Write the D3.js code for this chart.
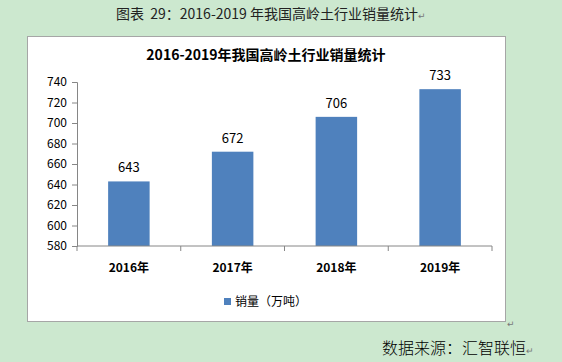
<!DOCTYPE html>
<html>
<head>
<meta charset="utf-8">
<script src="https://cdn.jsdelivr.net/npm/d3@7"></script>
<style>
  body { margin: 0; background: #cce8cf; }
  svg { display: block; }
  text { white-space: pre; }
</style>
</head>
<body>
<div id="chart"></div>
<script>
const years = ["2016年", "2017年", "2018年", "2019年"];
const sales = [643, 672, 706, 733];
const yTicks = [580, 600, 620, 640, 660, 680, 700, 720, 740];
const seriesName = "销量（万吨）";

const W = 562, H = 362;
const FONT = "'Noto Sans CJK SC', 'DejaVu Sans', sans-serif";

const svg = d3.select("#chart").append("svg")
    .attr("width", W)
    .attr("height", H);

svg.append("rect")
    .attr("width", W).attr("height", H)
    .attr("fill", "#cce8cf");

// page caption
const cap = svg.append("text")
    .attr("x", 116).attr("y", 19)
    .style("font-family", FONT)
    .style("font-size", "14px")
    .attr("fill", "#222");
cap.append("tspan").text("图表  29：2016-2019 年我国高岭土行业销量统计");
cap.append("tspan").style("font-size", "9px").attr("fill", "#777").text("↵");

// chart box
svg.append("rect")
    .attr("x", 27.5).attr("y", 36.5)
    .attr("width", 478).attr("height", 285)
    .attr("fill", "#fff")
    .attr("stroke", "#a6a6a6");

svg.append("text")
    .attr("x", 507).attr("y", 327)
    .style("font-family", FONT)
    .style("font-size", "9px")
    .attr("fill", "#777")
    .text("↵");

svg.append("text")
    .attr("x", 266).attr("y", 60)
    .attr("text-anchor", "middle")
    .style("font-family", FONT)
    .style("font-size", "14px")
    .style("font-weight", "bold")
    .attr("fill", "#000")
    .text("2016-2019年我国高岭土行业销量统计");

const margin = {left: 77, top: 82, right: 70, bottom: 116};
const iw = W - margin.left - margin.right;
const ih = H - margin.top - margin.bottom;

const x = d3.scaleBand().domain(years).range([0, iw]).paddingInner(0.6).paddingOuter(0.3);
const y = d3.scaleLinear().domain([580, 740]).range([ih, 0]);

const g = svg.append("g")
    .attr("transform", "translate(" + margin.left + "," + margin.top + ")");

g.selectAll("rect.bar")
    .data(sales)
    .enter().append("rect")
    .attr("class", "bar")
    .attr("x", (d, i) => x(years[i]))
    .attr("y", d => y(d))
    .attr("width", x.bandwidth())
    .attr("height", d => ih - y(d))
    .attr("fill", "#4f81bd");

g.selectAll("text.val")
    .data(sales)
    .enter().append("text")
    .attr("class", "val")
    .attr("x", (d, i) => x(years[i]) + x.bandwidth() / 2)
    .attr("y", d => y(d) - 9)
    .attr("text-anchor", "middle")
    .style("font-family", FONT)
    .style("font-size", "13px")
    .attr("fill", "#000")
    .text(d => d);

// y axis
const yAxis = g.append("g")
    .call(d3.axisLeft(y).tickValues(yTicks).tickSize(5).tickPadding(5));
yAxis.select(".domain").attr("stroke", "#868686");
yAxis.selectAll(".tick line").attr("stroke", "#868686");
yAxis.selectAll(".tick text")
    .style("font-family", FONT)
    .style("font-size", "12px")
    .attr("fill", "#000");

// x axis with ticks on category boundaries
const xg = g.append("g").attr("transform", "translate(0," + ih + ")");
xg.append("line")
    .attr("x1", 0).attr("x2", iw)
    .attr("stroke", "#868686");
const step = iw / years.length;
xg.selectAll("line.tk")
    .data(d3.range(years.length + 1))
    .enter().append("line")
    .attr("class", "tk")
    .attr("x1", d => d * step).attr("x2", d => d * step)
    .attr("y1", 0).attr("y2", 5)
    .attr("stroke", "#868686");
xg.selectAll("text")
    .data(years)
    .enter().append("text")
    .attr("x", d => x(d) + x.bandwidth() / 2)
    .attr("y", 26)
    .attr("text-anchor", "middle")
    .style("font-family", FONT)
    .style("font-size", "12px")
    .style("font-weight", "bold")
    .attr("fill", "#000")
    .text(d => d);

// legend
svg.append("rect")
    .attr("x", 224).attr("y", 298)
    .attr("width", 7).attr("height", 7)
    .attr("fill", "#4f81bd");
svg.append("text")
    .attr("x", 235).attr("y", 306)
    .style("font-family", FONT)
    .style("font-size", "12px")
    .attr("fill", "#000")
    .text(seriesName);

// source
const src = svg.append("text")
    .attr("x", 382).attr("y", 354)
    .style("font-family", FONT)
    .style("font-size", "16px")
    .style("font-weight", "300")
    .attr("fill", "#000");
src.append("tspan").text("数据来源：汇智联恒");
src.append("tspan").style("font-size", "9px").attr("fill", "#777").text("↵");
</script>
</body>
</html>
